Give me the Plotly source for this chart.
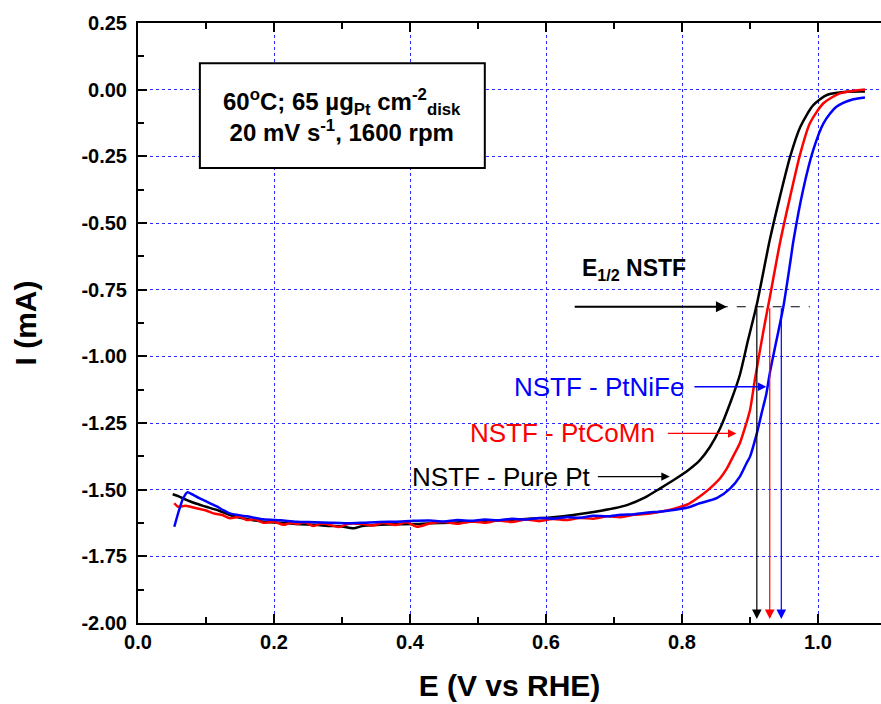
import plotly.graph_objects as go

# ---- data ----
E_pt = [0.051, 0.06, 0.072, 0.085, 0.10, 0.12, 0.135, 0.16, 0.184, 0.21, 0.233, 0.26, 0.282, 0.30, 0.317,
        0.33, 0.356, 0.38, 0.405, 0.43, 0.46, 0.49, 0.52, 0.55, 0.58, 0.61, 0.64, 0.67, 0.70, 0.72, 0.745,
        0.768, 0.79, 0.81, 0.826, 0.841, 0.856, 0.873, 0.885, 0.897, 0.910, 0.929, 0.944, 0.959, 0.974,
        0.993, 1.013, 1.042, 1.069]
I_pt = [-1.517, -1.525, -1.539, -1.552, -1.564, -1.580, -1.595, -1.610, -1.620, -1.624, -1.629, -1.632,
        -1.636, -1.638, -1.645, -1.636, -1.632, -1.630, -1.629, -1.626, -1.624, -1.620, -1.617, -1.613,
        -1.608, -1.603, -1.595, -1.584, -1.570, -1.557, -1.530, -1.495, -1.460, -1.425, -1.390, -1.340,
        -1.270, -1.160, -1.070, -0.940, -0.805, -0.564, -0.401, -0.251, -0.139, -0.058, -0.020, -0.008,
        -0.007]

E_comn = [0.0534, 0.059, 0.07, 0.086, 0.10, 0.111, 0.125, 0.135, 0.15, 0.16, 0.172, 0.184, 0.20, 0.214,
          0.225, 0.233, 0.245, 0.258, 0.27, 0.282, 0.295, 0.31, 0.331, 0.345, 0.36, 0.38, 0.395, 0.41,
          0.43, 0.45, 0.47, 0.49, 0.51, 0.53, 0.55, 0.57, 0.59, 0.61, 0.63, 0.65, 0.67, 0.69, 0.71, 0.73,
          0.75, 0.77, 0.79, 0.81, 0.826, 0.841, 0.856, 0.866, 0.875, 0.885, 0.893, 0.900, 0.907, 0.920,
          0.929, 0.944, 0.959, 0.974, 0.988, 1.008, 1.032, 1.069]
I_comn = [-1.551, -1.564, -1.560, -1.570, -1.578, -1.589, -1.596, -1.607, -1.602, -1.614, -1.611, -1.624,
          -1.620, -1.632, -1.624, -1.629, -1.622, -1.636, -1.627, -1.632, -1.640, -1.628, -1.629, -1.634,
          -1.625, -1.632, -1.622, -1.639, -1.626, -1.621, -1.628, -1.619, -1.624, -1.616, -1.621, -1.612,
          -1.618, -1.610, -1.614, -1.606, -1.609, -1.600, -1.603, -1.594, -1.590, -1.582, -1.570, -1.553,
          -1.526, -1.495, -1.457, -1.420, -1.376, -1.326, -1.264, -1.201, -1.090, -0.900, -0.780, -0.575,
          -0.401, -0.239, -0.126, -0.051, -0.014, 0.001]

E_nife = [0.0534, 0.060, 0.066, 0.0725, 0.08, 0.09, 0.101, 0.115, 0.135, 0.16, 0.184, 0.21, 0.233, 0.26,
          0.282, 0.31, 0.331, 0.355, 0.380, 0.405, 0.429, 0.45, 0.47, 0.49, 0.51, 0.53, 0.55, 0.57, 0.59,
          0.61, 0.63, 0.65, 0.67, 0.69, 0.71, 0.73, 0.75, 0.77, 0.79, 0.81, 0.826, 0.851, 0.871, 0.885,
          0.895, 0.900, 0.910, 0.917, 0.924, 0.929, 0.939, 0.949, 0.959, 0.964, 0.978, 0.993, 1.008,
          1.027, 1.052, 1.069]
I_nife = [-1.639, -1.580, -1.535, -1.510, -1.518, -1.532, -1.545, -1.562, -1.589, -1.600, -1.611, -1.615,
          -1.620, -1.622, -1.624, -1.626, -1.624, -1.621, -1.620, -1.617, -1.616, -1.619, -1.614, -1.617,
          -1.612, -1.615, -1.609, -1.612, -1.606, -1.609, -1.603, -1.605, -1.598, -1.600, -1.594, -1.592,
          -1.586, -1.582, -1.575, -1.566, -1.551, -1.532, -1.495, -1.451, -1.400, -1.376, -1.289, -1.214,
          -1.140, -1.064, -0.939, -0.814, -0.650, -0.564, -0.376, -0.226, -0.126, -0.064, -0.036, -0.029]

series_names = ["NSTF - Pure Pt", "NSTF - PtCoMn", "NSTF - PtNiFe"]
series_colors = ["#000000", "#ff0000", "#0000ff"]
E_half = [0.910, 0.929, 0.946]          # half-wave potentials (V)
I_half = -0.814                          # half of limiting current (mA)
label_pos = [(0.667, -1.451), (0.763, -1.289), (0.806, -1.114)]   # right edge of labels
label_arrows = [(0.674, 0.782), (0.777, 0.880), (0.816, 0.924)]   # tail, tip of label arrows

x_ticks = [0.0, 0.2, 0.4, 0.6, 0.8, 1.0]
y_ticks = [0.25, 0.0, -0.25, -0.5, -0.75, -1.0, -1.25, -1.5, -1.75, -2.0]

FONT = "Liberation Sans, Arial, sans-serif"

fig = go.Figure()
for E, I, name, col in zip([E_pt, E_comn, E_nife], [I_pt, I_comn, I_nife], series_names, series_colors):
    fig.add_trace(go.Scatter(x=E, y=I, mode="lines", name=name,
                             line=dict(color=col, width=2.5, shape="spline", smoothing=0.7),
                             showlegend=False))

# dashed E1/2 line
fig.add_shape(type="line", xref="x", yref="y", x0=0.854, x1=0.988, y0=I_half, y1=I_half,
              line=dict(color="black", width=1.2, dash="dash"))

# box around conditions
fig.add_shape(type="rect", xref="x", yref="y", x0=0.091, x1=0.510, y0=0.099, y1=-0.294,
              line=dict(color="black", width=2), fillcolor="white", layer="above")

ann = []
ann.append(dict(x=0.3, y=-0.0975, xref="x", yref="y", showarrow=False,
                text="<b>60<sup>o</sup>C; 65 µg<sub>Pt</sub> cm<sup>-2</sup><sub>disk</sub></b><br>"
                     "<b>20 mV s<sup>-1</sup>, 1600 rpm</b>",
                font=dict(family=FONT, size=24, color="black"), align="center"))

# E1/2 label and arrow
ann.append(dict(x=0.650, y=-0.675, xref="x", yref="y", showarrow=False, xanchor="left",
                text="<b>E<sub>1/2</sub> NSTF</b>", font=dict(family=FONT, size=23, color="black")))
ann.append(dict(x=0.866, y=I_half, ax=0.640, ay=I_half, xref="x", yref="y", axref="x", ayref="y",
                text="", showarrow=True, arrowhead=2, arrowsize=1.0, arrowwidth=2.2, arrowcolor="black"))

# vertical E1/2 arrows
for eh, col in zip(E_half, series_colors):
    ann.append(dict(x=eh, y=-1.985, ax=eh, ay=I_half, xref="x", yref="y", axref="x", ayref="y",
                    text="", showarrow=True, arrowhead=2, arrowsize=1.6, arrowwidth=1.2, arrowcolor=col))

# series labels and arrows
for (lx, ly), (ta, tb), name, col in zip(label_pos, label_arrows, series_names, series_colors):
    ann.append(dict(x=lx, y=ly, xref="x", yref="y", showarrow=False, xanchor="right",
                    text=name, font=dict(family=FONT, size=26, color=col)))
    ann.append(dict(x=tb, y=ly, ax=ta, ay=ly, xref="x", yref="y", axref="x", ayref="y",
                    text="", showarrow=True, arrowhead=2, arrowsize=1.3, arrowwidth=1.3, arrowcolor=col))

fig.update_layout(
    width=881, height=704,
    margin=dict(l=138, r=0, t=23, b=81),
    paper_bgcolor="white", plot_bgcolor="white",
    annotations=ann,
    font=dict(family=FONT, color="black"),
    xaxis=dict(range=[0, 1.0926], tickvals=x_ticks, ticktext=[f"{v:.1f}" for v in x_ticks],
               showline=True, linecolor="black", linewidth=2, mirror="ticks",
               ticks="inside", ticklen=9, tickwidth=2, tickcolor="black",
               minor=dict(dtick=0.1, tick0=0, ticks="inside", ticklen=6, tickwidth=2, tickcolor="black",
                          showgrid=False),
               showgrid=True, gridcolor="#2a2aff", gridwidth=1, griddash="dot",
               zeroline=False,
               tickfont=dict(family=FONT, size=20, color="black", weight="bold"),
               title=dict(text="<b>E (V vs RHE)</b>", font=dict(family=FONT, size=30, color="black"),
                          standoff=23)),
    yaxis=dict(range=[-2.0, 0.25], tickvals=y_ticks, ticktext=[f"{v:.2f}" for v in y_ticks],
               showline=True, linecolor="black", linewidth=2, mirror=False,
               ticks="inside", ticklen=9, tickwidth=2, tickcolor="black", ticklabelstandoff=5,
               minor=dict(dtick=0.125, tick0=0, ticks="inside", ticklen=6, tickwidth=2, tickcolor="black",
                          showgrid=False),
               showgrid=True, gridcolor="#2a2aff", gridwidth=1, griddash="dot",
               zeroline=False,
               tickfont=dict(family=FONT, size=20, color="black", weight="bold"),
               title=dict(text="<b>I (mA)</b>", font=dict(family=FONT, size=30, color="black"),
                          standoff=36)),
)

fig.write_html("out.html")
